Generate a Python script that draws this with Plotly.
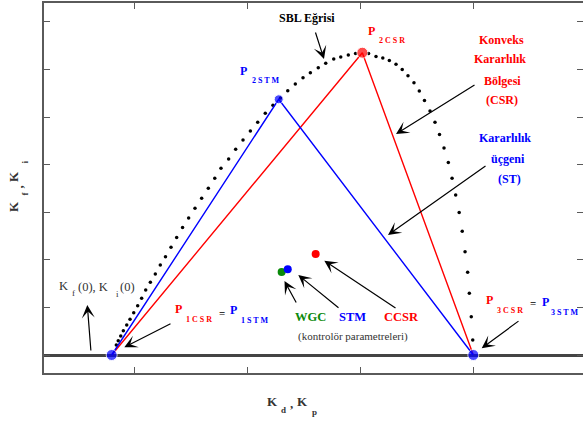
import plotly.graph_objects as go

# ---------------- data ----------------
# SBL curve (dotted stability boundary locus)
sbl_x = [0.841, 0.858, 0.880, 0.903, 0.933, 0.962, 0.995, 1.030, 1.065, 1.101,
         1.142, 1.186, 1.230, 1.276, 1.325, 1.375, 1.427, 1.481, 1.537, 1.596,
         1.655, 1.712, 1.767, 1.835, 1.897, 1.962, 2.027, 2.092, 2.159, 2.227,
         2.294, 2.358, 2.425, 2.493, 2.558, 2.628, 2.694, 2.765, 2.827, 2.894,
         2.958, 3.073, 3.139, 3.199, 3.257, 3.316, 3.371, 3.422, 3.475, 3.522,
         3.568, 3.617, 3.661, 3.701, 3.741, 3.779, 3.812, 3.844, 3.875, 3.902,
         3.927, 3.950, 3.965, 3.982, 3.995]
sbl_y = [0.210, 0.300, 0.399, 0.511, 0.630, 0.750, 0.889, 1.036, 1.191, 1.366,
         1.527, 1.702, 1.891, 2.065, 2.263, 2.468, 2.679, 2.878, 3.082, 3.292,
         3.502, 3.712, 3.922, 4.118, 4.321, 4.517, 4.706, 4.889, 5.078, 5.246,
         5.399, 5.553, 5.693, 5.826, 5.931, 6.036, 6.128, 6.218, 6.261, 6.303,
         6.334, 6.334, 6.271, 6.239, 6.187, 6.107, 5.998, 5.866, 5.718, 5.546,
         5.347, 5.126, 4.889, 4.632, 4.349, 4.044, 3.712, 3.361, 2.994, 2.599,
         2.170, 1.737, 1.296, 0.805, 0.315]

# Convex stability region (CSR) vertices P1, P2, P3
csr_x = [0.80, 3.018, 4.00]
csr_y = [0.00, 6.351, 0.00]
# Stability triangle (STM) vertices P1, P2, P3
stm_x = [0.80, 2.278, 4.00]
stm_y = [0.00, 5.372, 0.00]

# Controller parameters
ctrl_names = ["WGC", "STM", "CCSR"]
ctrl_x = [2.304, 2.358, 2.605]
ctrl_y = [1.744, 1.800, 2.122]
ctrl_colors = ["#0a8a0a", "#0000ff", "#ff0000"]

x_ticks = [1, 2, 3, 4]
y_ticks = [0, 1, 2, 3, 4, 5, 6, 7]

# ---------------- layout helpers (pixel -> axis / paper units for text placement) ----------------
def dx(px):
    return 1 + (px - 134.3) / 113.0

def dy(py):
    return (355 - py) / 47.6

def pxp(px):
    return (px - 44) / 539.0

def pyp(py):
    return (373 - py) / 370.0

FONT = "Liberation Serif"
RED = "#ff0000"
BLUE = "#0000ff"
GREEN = "#0a8a0a"
AXC = "#5a5a5a"
TXT = "#333333"

fig = go.Figure()

fig.add_trace(go.Scatter(x=sbl_x, y=sbl_y, mode="markers",
                         marker=dict(color="black", size=3.5), hoverinfo="skip"))
fig.add_trace(go.Scatter(x=csr_x, y=csr_y, mode="lines+markers",
                         line=dict(color=RED, width=1.4),
                         marker=dict(color=RED, size=[0, 11, 0])))
fig.add_trace(go.Scatter(x=stm_x, y=stm_y, mode="lines+markers",
                         line=dict(color=BLUE, width=1.4),
                         marker=dict(color=BLUE, size=[11, 9, 11])))
for n, cx, cy, cc in zip(ctrl_names, ctrl_x, ctrl_y, ctrl_colors):
    fig.add_trace(go.Scatter(x=[cx], y=[cy], mode="markers", name=n,
                             marker=dict(color=cc, size=8)))
# invisible trace to carry the right-hand tick axis
fig.add_trace(go.Scatter(x=[x_ticks[0]], y=[y_ticks[0]], yaxis="y2", mode="markers",
                         marker=dict(opacity=0), hoverinfo="skip"))

ann = []

def text(px, py, t, color="black", size=12, bold=True, angle=0):
    s = f"<b>{t}</b>" if bold else t
    ann.append(dict(x=pxp(px), y=pyp(py), xref="paper", yref="paper", text=s,
                    showarrow=False, font=dict(family=FONT, size=size, color=color),
                    xanchor="center", yanchor="middle", textangle=angle))

def arrow(tx, ty, hx, hy):
    ann.append(dict(x=dx(hx), y=dy(hy), ax=dx(tx), ay=dy(ty), xref="x", yref="y",
                    axref="x", ayref="y", text="", showarrow=True, arrowhead=3,
                    arrowsize=1.8, arrowwidth=1.2, arrowcolor="black"))

# SBL label
text(307, 18, "SBL Eğrisi")
arrow(315, 31, 324, 59)

# P2 labels
text(243.5, 71, "P", BLUE, 12)
text(265, 81, "2 S T M", BLUE, 8)
text(371, 31, "P", RED, 12)
text(392, 41, "2 C S R", RED, 8)

# Convex stability region text
text(501, 40, "Konveks", RED)
text(500, 59, "Kararlılık", RED)
text(502.5, 81, "Bölgesi", RED)
text(502, 100, "(CSR)", RED)
arrow(476, 84, 396, 134)

# Stability triangle text
text(504.5, 138, "Kararlılık", BLUE)
text(508, 159, "üçgeni", BLUE)
text(509.5, 179, "(ST)", BLUE)
arrow(487, 165, 388, 235)

# Initial point text: K_f(0), K_i(0)
text(63.5, 285.5, "K", TXT, 12.5, bold=False)
text(73, 293, "f", TXT, 9, bold=False)
text(92.5, 286.5, "(0), K", TXT, 12.5, bold=False)
text(117, 293.5, "i", TXT, 9, bold=False)
text(127, 286.5, "(0)", TXT, 12.5, bold=False)
arrow(91, 352, 87.3, 305)

# P1 label
text(178.5, 308.5, "P", RED, 12)
text(199, 319, "1 C S R", RED, 8)
text(221.7, 313, "=", "black", 11)
text(233, 309.5, "P", BLUE, 12)
text(254.7, 320, "1 S T M", BLUE, 8)
arrow(172, 323, 124.3, 347.3)

# P3 label
text(489.5, 300, "P", RED, 12)
text(510, 310, "3 C S R", RED, 8)
text(533.3, 303.3, "=", "black", 11)
text(545, 301.7, "P", BLUE, 12)
text(564.5, 312.5, "3 S T M", BLUE, 8)
arrow(520, 320, 481.7, 348.3)

# controller parameter labels
text(310.5, 316.7, ctrl_names[0], GREEN, 12.5)
text(352.7, 316.7, ctrl_names[1], BLUE, 12.5)
text(401, 316.7, ctrl_names[2], RED, 12.5)
text(353.3, 336.7, "(kontrolör parametreleri)", TXT, 11, bold=False)
arrow(297, 304, 284.5, 281)
arrow(340, 309, 298.3, 275)
arrow(397, 309, 324.3, 260.7)

# x axis title: K_d , K_p
text(272, 401, "K", TXT, 13)
text(283, 410, "d", TXT, 9)
text(291, 403, ",", TXT, 13)
text(302, 401, "K", TXT, 13)
text(314, 411.5, "p", TXT, 9)

# y axis title (rotated): K_f , K_i
text(13.5, 206.5, "K", TXT, 13, angle=-90)
text(24.5, 194, "f", TXT, 9, angle=-90)
text(18, 187.5, ",", TXT, 13, angle=-90)
text(13.5, 176.5, "K", TXT, 13, angle=-90)
text(24.5, 162, "i", TXT, 9, angle=-90)

fig.update_layout(
    width=584, height=423,
    margin=dict(l=44, r=1, t=3, b=50, autoexpand=False),
    paper_bgcolor="white", plot_bgcolor="white",
    showlegend=False,
    annotations=ann,
    xaxis=dict(range=[dx(44), dx(583)], tickvals=x_ticks, showticklabels=False,
               ticks="inside", ticklen=6, tickwidth=1.3, tickcolor=AXC,
               showline=True, linecolor=AXC, linewidth=2, mirror="ticks",
               showgrid=False, zeroline=False, fixedrange=True),
    yaxis=dict(range=[dy(373), dy(3)], tickvals=y_ticks, showticklabels=False,
               ticks="inside", ticklen=6, tickwidth=1.3, tickcolor=AXC,
               showline=True, linecolor=AXC, linewidth=2, mirror=False,
               showgrid=False, zeroline=True, zerolinecolor="#444444",
               zerolinewidth=3, fixedrange=True),
    yaxis2=dict(range=[dy(373), dy(3)], tickvals=y_ticks, showticklabels=False,
                overlaying="y", side="right", anchor="x",
                ticks="inside", ticklen=6, tickwidth=1.3, tickcolor=AXC,
                showline=False, showgrid=False, zeroline=False, fixedrange=True),
)

fig.write_html("out.html", config={"displayModeBar": False},
               post_script="document.body.style.margin='0';document.body.style.overflow='hidden';")
